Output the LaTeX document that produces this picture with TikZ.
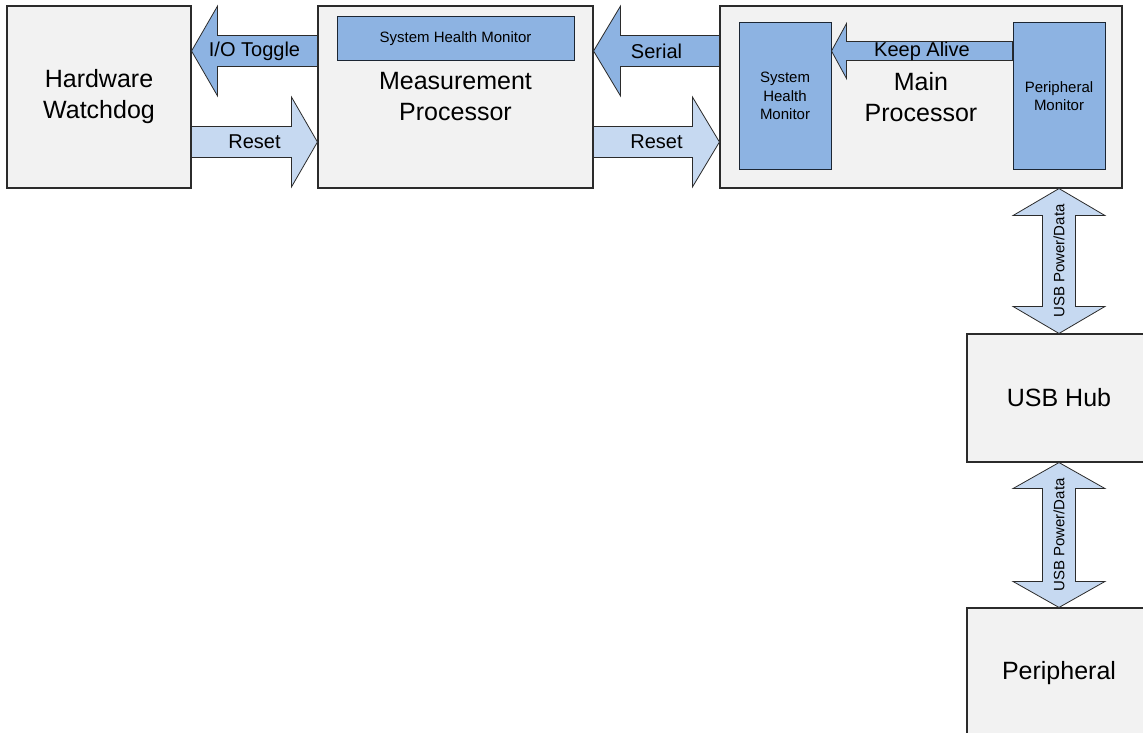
\documentclass[tikz,border=0pt]{standalone}
\usepackage{fontspec}
\setmainfont{Liberation Sans}
\usetikzlibrary{calc,positioning}

\definecolor{boxgray}{HTML}{F2F2F2}
\definecolor{edgegray}{HTML}{2B2B2B}
\definecolor{darkblue}{HTML}{8DB3E2}
\definecolor{lightblue}{HTML}{C6D9F1}
\definecolor{navy}{HTML}{1C2633}

\begin{document}
\begin{tikzpicture}[x=1pt,y=-1pt,
  block/.style={draw=edgegray,fill=boxgray,line width=1.1pt,inner sep=0pt,
                align=center,font=\fontsize{25}{31}\selectfont},
  inblock/.style={draw=navy,fill=darkblue,line width=1pt,inner sep=0pt,
                  align=center,font=\fontsize{15}{18.5}\selectfont},
  darkarrow/.style={draw=edgegray,fill=darkblue,line width=0.8pt},
  lightarrow/.style={draw=edgegray,fill=lightblue,line width=0.8pt},
  arrowtext/.style={font=\fontsize{20}{24}\selectfont,inner sep=0pt},
  usbtext/.style={font=\fontsize{15}{18}\selectfont,inner sep=0pt,rotate=90},
  % block arrow: head length, head half width, shaft half width
  blockarrow/.style n args={3}{to path={
    ($(\tikztotarget)!#1!(\tikztostart)$) coordinate (ah)
    ($(\tikztostart)!#3!90:(\tikztotarget)$) -- ($(ah)!#3!-90:(\tikztostart)$)
    -- ($(ah)!#2!-90:(\tikztostart)$) -- (\tikztotarget)
    -- ($(ah)!#2!90:(\tikztostart)$) -- ($(ah)!#3!90:(\tikztostart)$)
    -- ($(\tikztostart)!#3!-90:(\tikztotarget)$) -- cycle}},
  dblarrow/.style n args={3}{to path={
    ($(\tikztostart)!#1!(\tikztotarget)$) coordinate (ha)
    ($(\tikztotarget)!#1!(\tikztostart)$) coordinate (hb)
    (\tikztostart) -- ($(ha)!#2!90:(\tikztotarget)$) -- ($(ha)!#3!90:(\tikztotarget)$)
    -- ($(hb)!#3!-90:(\tikztostart)$) -- ($(hb)!#2!-90:(\tikztostart)$)
    -- (\tikztotarget)
    -- ($(hb)!#2!90:(\tikztostart)$) -- ($(hb)!#3!90:(\tikztostart)$)
    -- ($(ha)!#3!-90:(\tikztotarget)$) -- ($(ha)!#2!-90:(\tikztotarget)$)
    -- cycle}}]

\useasboundingbox (0,0) rectangle (1143,733);
\clip (0,0) rectangle (1143,733);

% processors
\node[block,minimum width=184,minimum height=182] (wdog) at (99,97) {Hardware\\Watchdog};
\node[block,minimum width=275,minimum height=182] (meas) at (455.5,97) {Measurement\\Processor};
\node[block,minimum width=402,minimum height=182] (mainp) at (921,97) {Main\\Processor};
\node[block,minimum width=184,minimum height=128] (hub) at (1059,398) {USB Hub};
\node[block,minimum width=184,minimum height=130] (periph) at (1059,673) {Peripheral};

% monitors inside the processors
\node[inblock,minimum width=237,minimum height=44] (meashm) at (455.5,39) {System Health Monitor};
\node[inblock,minimum width=92,minimum height=146] (mainhm) at (785,96) {System\\Health\\Monitor};
\node[inblock,minimum width=92,minimum height=146] (pmon) at (1059,96) {Peripheral\\Monitor};

% links
\draw[darkarrow,blockarrow={26pt}{45pt}{15.5pt}] (meas.west |- 0,51) to (wdog.east |- 0,51);
\draw[lightarrow,blockarrow={26pt}{45pt}{15.5pt}] (wdog.east |- 0,142) to (meas.west |- 0,142);
\draw[darkarrow,blockarrow={27pt}{45pt}{15.5pt}] (mainp.west |- 0,51) to (meas.east |- 0,51);
\draw[lightarrow,blockarrow={27pt}{45pt}{15.5pt}] (meas.east |- 0,142) to (mainp.west |- 0,142);
\draw[darkarrow,blockarrow={15pt}{27.5pt}{9.5pt}] (pmon.west |- 0,51) to (mainhm.east |- 0,51);
\draw[lightarrow,dblarrow={27pt}{46pt}{16.5pt}] (hub.north |- mainp.south) to (hub.north);
\draw[lightarrow,dblarrow={26pt}{46pt}{16.5pt}] (hub.south) to (periph.north);

\path (meas.west |- 0,51) -- node[arrowtext] {I/O Toggle} (wdog.east |- 0,51);
\path (wdog.east |- 0,142) -- node[arrowtext] {Reset} (meas.west |- 0,142);
\path (mainp.west |- 0,51) -- node[arrowtext] {Serial} (meas.east |- 0,51);
\path (meas.east |- 0,142) -- node[arrowtext] {Reset} (mainp.west |- 0,142);
\path (pmon.west |- 0,51) -- node[arrowtext] {Keep Alive} (mainhm.east |- 0,51);
\path (hub.north |- mainp.south) -- node[usbtext] {USB Power/Data} (hub.north);
\path (hub.south) -- node[usbtext] {USB Power/Data} (periph.north);
\end{tikzpicture}
\end{document}
